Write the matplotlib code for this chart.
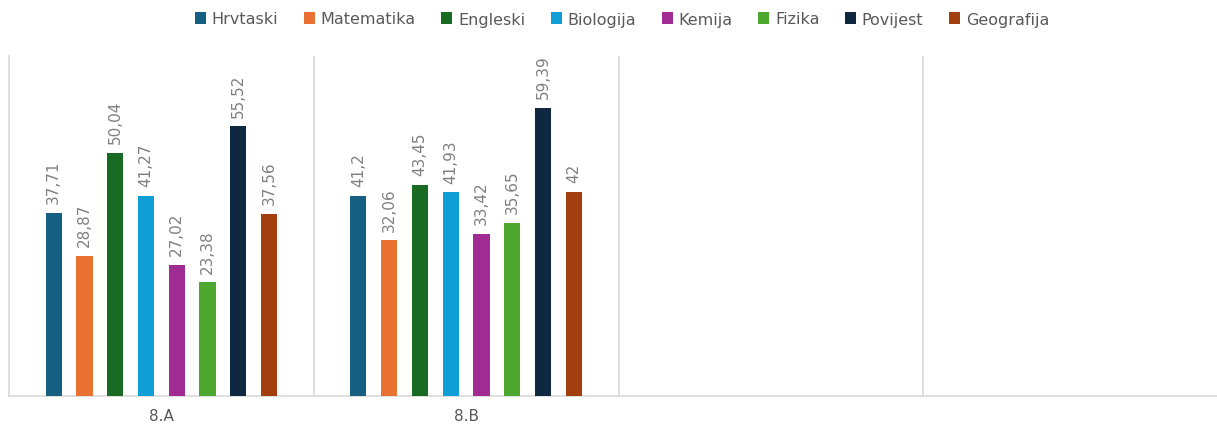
import numpy as np
import matplotlib.pyplot as plt

# categories (last two groups are empty in the source chart)
categories = ["8.A", "8.B", "", ""]
subjects = ["Hrvtaski", "Matematika", "Engleski", "Biologija",
            "Kemija", "Fizika", "Povijest", "Geografija"]
values_8a = [37.71, 28.87, 50.04, 41.27, 27.02, 23.38, 55.52, 37.56]
values_8b = [41.2, 32.06, 43.45, 41.93, 33.42, 35.65, 59.39, 42]

colors = ["#156082", "#E97132", "#196B24", "#0F9ED5",
          "#A02B93", "#4EA72E", "#0E2841", "#A33F0E"]
text_gray = "#595959"
label_gray = "#808080"
line_gray = "#D9D9D9"


def fmt(v):
    return f"{v:g}".replace(".", ",")


if __name__ == "__main__":
    fig = plt.figure(figsize=(12.17, 4.27), dpi=100)
    # plot area runs a bit past the right edge, like the cropped original
    ax = fig.add_axes([9 / 1217, 1 - 397 / 427, 1219 / 1217, 340 / 427])

    slot = 0.101
    bar_w = 0.053
    group_x = np.arange(2)
    for i, subj in enumerate(subjects):
        vals = [values_8a[i], values_8b[i]]
        xs = group_x + (i - 3.5) * slot
        bars = ax.bar(xs, vals, width=bar_w, color=colors[i], label=subj, zorder=3)
        for b, v in zip(bars, vals):
            ax.annotate(fmt(v), (b.get_x() + b.get_width() / 2, v),
                        xytext=(0, 7), textcoords="offset points",
                        rotation=90, ha="center", va="bottom",
                        fontsize=11, color=label_gray)

    ax.set_xlim(-0.5, 3.5)
    ax.set_ylim(0, 70)

    # group separators
    for xv in [0.5, 1.5, 2.5]:
        ax.axvline(xv, color=line_gray, lw=1.2, zorder=1)

    for s in ["top", "right"]:
        ax.spines[s].set_visible(False)
    ax.spines["left"].set_color(line_gray)
    ax.spines["bottom"].set_color(line_gray)
    ax.spines["left"].set_linewidth(1.2)
    ax.spines["bottom"].set_linewidth(1.2)

    ax.set_yticks([])
    ax.set_xticks(range(len(categories)))
    ax.set_xticklabels(categories, fontsize=11, color=text_gray)
    ax.tick_params(axis="x", length=0, pad=9)

    fig.legend(loc="center", bbox_to_anchor=(622 / 1217, 1 - 20 / 427),
               ncol=8, frameon=False, fontsize=11.5, labelcolor=text_gray,
               handlelength=0.7, handleheight=0.7, handletextpad=0.35,
               columnspacing=1.6)

    plt.savefig("out.png", dpi=100)
